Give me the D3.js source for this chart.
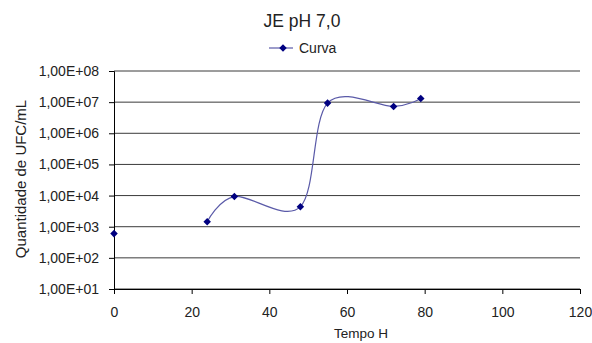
<!DOCTYPE html>
<html>
<head>
<meta charset="utf-8">
<script src="https://cdn.jsdelivr.net/npm/d3@7"></script>
<style>
  body { margin: 0; background: #fff; }
  text { font-family: "Liberation Sans", Arial, sans-serif; fill: #222; }
</style>
</head>
<body>
<svg id="chart" width="592" height="343"></svg>
<script>
// data
const tempo = [0, 24, 31, 48, 55, 72, 79];
const ufc = [600, 1450, 9300, 4400, 9300000, 7300000, 13000000];
// first reading is not joined to the rest of the curve
const lineStart = 1;

const yTicks = [1e1, 1e2, 1e3, 1e4, 1e5, 1e6, 1e7, 1e8];
const xTicks = [0, 20, 40, 60, 80, 100, 120];

const svg = d3.select("#chart");

const plotLeft = 114, plotRight = 580, plotTop = 71, plotBottom = 289;

const x = d3.scaleLinear().domain([0, 120]).range([plotLeft, plotRight]);
const y = d3.scaleLog().domain([1e1, 1e8]).range([plotBottom, plotTop]);

const fmt = d => d3.format(".2e")(d).replace(".", ",").replace(/e\+(\d)$/, "E+0$1");

// gridlines
svg.append("g")
  .selectAll("line")
  .data(yTicks)
  .join("line")
  .attr("x1", plotLeft)
  .attr("x2", plotRight)
  .attr("y1", d => y(d))
  .attr("y2", d => y(d))
  .attr("stroke", "#3a3a3a")
  .attr("stroke-width", 1);

// y axis
const yAxis = svg.append("g")
  .attr("transform", `translate(${plotLeft},0)`)
  .call(d3.axisLeft(y).tickValues(yTicks).tickFormat(fmt).tickSize(5).tickPadding(10));
yAxis.select(".domain").attr("stroke", "#000");
yAxis.selectAll("text").attr("font-size", 14).attr("fill", "#3a3a3a");

// x axis
const xAxis = svg.append("g")
  .attr("transform", `translate(0,${plotBottom})`)
  .call(d3.axisBottom(x).tickValues(xTicks).tickSize(5).tickPadding(13));
xAxis.select(".domain").attr("stroke", "#000");
xAxis.selectAll("text").attr("font-size", 14).attr("fill", "#3a3a3a");

// smoothed line
const pts = tempo.map((t, i) => [t, ufc[i]]);
const line = d3.line()
  .x(d => x(d[0]))
  .y(d => y(d[1]))
  .curve(d3.curveCatmullRom.alpha(0));

svg.append("path")
  .datum(pts.slice(lineStart))
  .attr("d", line)
  .attr("fill", "none")
  .attr("stroke", "#5a5aa8")
  .attr("stroke-width", 1.2);

// markers
const diamond = d3.symbol().type(d3.symbolDiamond2).size(36);
svg.append("g")
  .selectAll("path")
  .data(pts)
  .join("path")
  .attr("d", diamond)
  .attr("transform", d => `translate(${x(d[0])},${y(d[1])})`)
  .attr("fill", "#000080");

// title
svg.append("text")
  .attr("x", 302)
  .attr("y", 27)
  .attr("text-anchor", "middle")
  .attr("font-size", 17.5)
  .attr("fill", "#111")
  .text("JE pH 7,0");

// legend
const lg = svg.append("g").attr("transform", "translate(269,48)");
lg.append("line")
  .attr("x1", 0).attr("x2", 24)
  .attr("stroke", "#5a5aa8")
  .attr("stroke-width", 1.2);
lg.append("path")
  .attr("d", diamond)
  .attr("transform", "translate(14,0)")
  .attr("fill", "#000080");
lg.append("text")
  .attr("x", 30)
  .attr("y", 5)
  .attr("font-size", 14)
  .attr("fill", "#3a3a3a")
  .text("Curva");

// axis titles
svg.append("text")
  .attr("transform", "translate(26,179) rotate(-90)")
  .attr("text-anchor", "middle")
  .attr("font-size", 15)
  .attr("fill", "#3a3a3a")
  .text("Quantidade de UFC/mL");

svg.append("text")
  .attr("x", 361)
  .attr("y", 338)
  .attr("text-anchor", "middle")
  .attr("font-size", 13.5)
  .attr("fill", "#3a3a3a")
  .text("Tempo H");
</script>
</body>
</html>
